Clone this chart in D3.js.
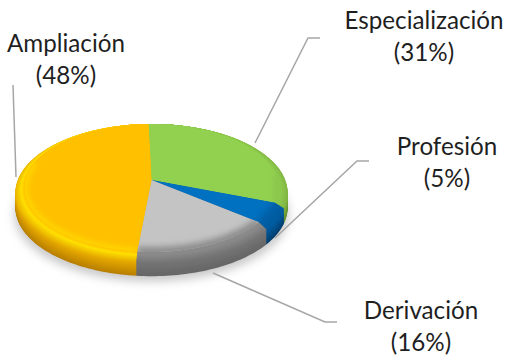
<!DOCTYPE html>
<html>
<head>
<meta charset="utf-8">
<script src="https://cdn.jsdelivr.net/npm/d3@7"></script>
<style>
  html, body { margin: 0; padding: 0; background: #fff; }
  svg { display: block; }
  text { font-family: Lato, "Open Sans", sans-serif; font-size: 24.2px; fill: #1f1f1f; }
</style>
</head>
<body>
<div id="chart"></div>
<script>
const categories = ["Especialización", "Profesión", "Derivación", "Ampliación"];
const shares = [31, 5, 16, 48];
const faceColors = ["#92D050", "#0070C0", "#C4C4C4", "#FFC000"];
const rimBright = ["#8CC84C", "#005FA6", "#8A8A8A", "#FFE000"];
const rimMid = ["#7FB040", "#005A9C", "#747474", "#E3A600"];
const rimDark = ["#5E8A30", "#003E6E", "#666666", "#B87F00"];
const edgeGlow = ["#86C048", "#005A9C", "#8A8A8A", "#FFE000"];

const width = 509, height = 359;
const svg = d3.select("#chart").append("svg").attr("width", width).attr("height", height);

const defs = svg.append("defs");
defs.append("filter").attr("id", "soft").attr("x", "-20%").attr("y", "-20%").attr("width", "140%").attr("height", "140%")
  .append("feGaussianBlur").attr("stdDeviation", 5);
defs.append("filter").attr("id", "aa")
  .append("feGaussianBlur").attr("stdDeviation", 0.5);
defs.append("filter").attr("id", "glow").attr("filterUnits", "userSpaceOnUse")
  .attr("x", 0).attr("y", 0).attr("width", width).attr("height", height)
  .append("feGaussianBlur").attr("stdDeviation", 3);

// tilted disc: perspective projection of the unit circle
const cx = 151.5, cy = 180, k = 0.125;
const project = (angle, rx, ry, dy) => {
  const u = Math.sin(angle), v = -Math.cos(angle), w = 1 - k * v;
  return [cx + rx * u / w, cy + dy + ry * v / w];
};

const arcPoints = (d, rx, ry, dy) => {
  const n = Math.max(2, Math.ceil((d.endAngle - d.startAngle) * 40));
  return d3.range(n + 1).map(i => project(d.startAngle + (d.endAngle - d.startAngle) * i / n, rx, ry, dy));
};

const slicePath = (d, rx, ry, dy) =>
  "M" + cx + "," + (cy + dy) + "L" + arcPoints(d, rx, ry, dy).map(p => p.join(",")).join("L") + "Z";

const turn = -0.026;
const arcs = d3.pie().sort(null).startAngle(turn).endAngle(turn + 2 * Math.PI)(shares);

// drop shadow under the disc
svg.append("path")
  .attr("d", d3.line()(d3.range(0, 361, 3).map(a => project(a * Math.PI / 180, 136, 66, 26))) + "Z")
  .attr("fill", "#c8c8c8")
  .attr("filter", "url(#soft)");

// stacked layers build the rim and the bevel, bottom first
const steps = 36;
const faceRx = 126, faceRy = 63, outer = 1.072;
const rimScale = d3.scaleLinear().domain([0, 0.6, 1]).range([outer, outer, 1]);
const drop = d3.scaleLinear().domain([0, 0.6, 1]).range([19, 4, 0]);
const disc = svg.append("g").attr("filter", "url(#aa)");
d3.range(steps + 1).forEach(i => {
  const t = i / steps;
  const color = j => d3.scaleLinear().domain([0, 0.5, 0.85, 1])
    .range([rimDark[j], rimMid[j], rimBright[j], j === 3 ? faceColors[j] : rimBright[j]])(t);
  disc.append("g").selectAll("path").data(arcs).join("path")
    .attr("d", d => slicePath(d, faceRx * rimScale(t), faceRy * rimScale(t), drop(t)))
    .attr("fill", (d, j) => color(j));
});

// top face
disc.append("g").selectAll("path").data(arcs).join("path")
  .attr("d", d => slicePath(d, faceRx, faceRy, 0))
  .attr("fill", (d, j) => faceColors[j]);

// soft shading along the lower edge of the face, kept inside each slice
arcs.forEach((d, j) => {
  defs.append("clipPath").attr("id", "slice" + j)
    .append("path").attr("d", slicePath(d, faceRx, faceRy, 0));
  // only the part of the edge that faces the viewer
  const lower = {
    startAngle: Math.max(d.startAngle, j === 0 ? 1.5 : d.startAngle),
    endAngle: j === 3 ? Math.min(d.endAngle, 5.0) : d.endAngle
  };
  disc.append("g").attr("clip-path", "url(#slice" + j + ")")
    .append("path")
    .attr("d", d3.line()(arcPoints(lower, faceRx, faceRy, 0)))
    .attr("fill", "none")
    .attr("stroke", edgeGlow[j])
    .attr("stroke-width", j === 2 ? 10 : 5)
    .attr("filter", "url(#glow)");
});

// leader lines
const leaders = [
  [[320, 38], [308, 38], [255, 143]],
  [[369, 161], [357, 161], [275, 238]],
  [[337, 322], [325, 322], [213, 273]],
  [[13, 85], [16, 177]]
];
svg.append("g").selectAll("path").data(leaders).join("path")
  .attr("d", d3.line())
  .attr("fill", "none")
  .attr("stroke", "#A6A6A6")
  .attr("stroke-width", 1.5);

// labels
const labelPos = [[424, 29], [447, 155], [421, 319], [66, 52]];
const labels = svg.append("g").selectAll("text").data(categories).join("text")
  .attr("text-anchor", "middle")
  .attr("x", (d, i) => labelPos[i][0])
  .attr("y", (d, i) => labelPos[i][1]);
labels.append("tspan").text(d => d);
labels.append("tspan")
  .attr("x", (d, i) => labelPos[i][0])
  .attr("dy", 32)
  .text((d, i) => "(" + shares[i] + "%)");
</script>
</body>
</html>
